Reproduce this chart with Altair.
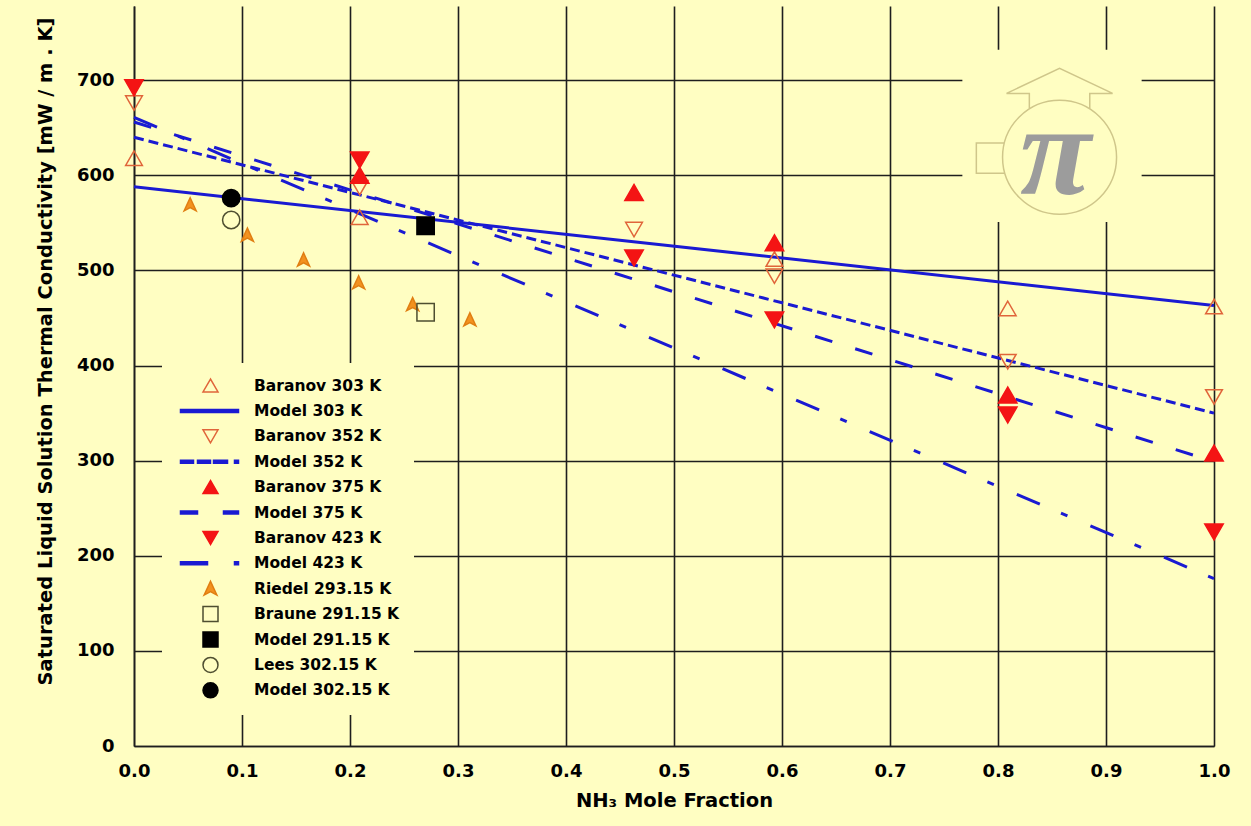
import altair as alt
import pandas as pd

# ---------------- data ----------------
series_names = [
    "Baranov 303 K", "Model 303 K", "Baranov 352 K", "Model 352 K",
    "Baranov 375 K", "Model 375 K", "Baranov 423 K", "Model 423 K",
    "Riedel 293.15 K", "Braune 291.15 K", "Model 291.15 K",
    "Lees 302.15 K", "Model 302.15 K",
]

baranov_x = [0.0, 0.209, 0.463, 0.593, 0.809, 1.0]
baranov_303 = [618, 556, None, 512, 460, 462]
baranov_352 = [676, 587, 543, 494, 404, 367]
baranov_375 = [None, 600, 582, 529, 369, 308]
baranov_423 = [692, 616, 513, 448, 348, 225]

riedel_x = [0.052, 0.105, 0.157, 0.208, 0.258, 0.311]
riedel_y = [569, 537, 511, 487, 464, 448]

braune_x = [0.270]
braune_y = [456]
model291_x = [0.270]
model291_y = [547]
lees_x = [0.090]
lees_y = [553]
model302_x = [0.090]
model302_y = [576]

model_x = [0.0, 1.0]
model_303 = [588, 463]
model_352 = [640, 350]
model_375 = [656, 299]
model_423 = [661, 176]

x_ticks = [0.0, 0.1, 0.2, 0.3, 0.4, 0.5, 0.6, 0.7, 0.8, 0.9, 1.0]
y_ticks = [0, 100, 200, 300, 400, 500, 600, 700]

# ---------------- styles ----------------
BG = "#FFFEC2"
BLUE = "#1A1AD2"
HOLLOW = "#E0653A"
RED = "#F41414"
ORANGE = "#F3921F"
OLIVE = "#4E4E30"
FONT = "DejaVu Sans"


def seg_path(segs, hh=0.2, r=7.5):
    out = []
    for a, b in segs:
        out.append(f"M{a / r:.3f},{-hh:.3f}H{b / r:.3f}V{hh:.3f}H{a / r:.3f}Z")
    return "".join(out)


ARROW = "M0,-1L0.85,0.85L0,0.4L-0.85,0.85Z"

shape_range = [
    "triangle-up", seg_path([(-30, 28)]), "triangle-down",
    seg_path([(-30, -17), (-13, 0), (3, 17), (24, 28)]),
    "triangle-up", seg_path([(-30, -13), (13, 28)]),
    "triangle-down", seg_path([(-30, -3), (24, 28)]),
    ARROW, "square", "square", "circle", "circle",
]
fill_range = [
    "transparent", BLUE, "transparent", BLUE, RED, BLUE, RED, BLUE,
    ORANGE, "transparent", "black", "transparent", "black",
]
stroke_range = [
    HOLLOW, BLUE, HOLLOW, BLUE, RED, BLUE, RED, BLUE,
    "#E07E12", OLIVE, "black", OLIVE, "black",
]

# ---------------- tables ----------------
rows = []
for name, ys in [("Baranov 303 K", baranov_303), ("Baranov 352 K", baranov_352),
                 ("Baranov 375 K", baranov_375), ("Baranov 423 K", baranov_423)]:
    for xv, yv in zip(baranov_x, ys):
        if yv is not None:
            rows.append({"series": name, "x": xv, "y": yv})
for xv, yv in zip(riedel_x, riedel_y):
    rows.append({"series": "Riedel 293.15 K", "x": xv, "y": yv})
for name, xs, ys in [("Braune 291.15 K", braune_x, braune_y),
                     ("Model 291.15 K", model291_x, model291_y),
                     ("Lees 302.15 K", lees_x, lees_y),
                     ("Model 302.15 K", model302_x, model302_y)]:
    for xv, yv in zip(xs, ys):
        rows.append({"series": name, "x": xv, "y": yv})
points = pd.DataFrame(rows)

xscale = alt.Scale(domain=[0, 1], nice=False, zero=False)
yscale = alt.Scale(domain=[0, 778], nice=False)

legend = alt.Legend(
    title=None, orient="none", legendX=28, legendY=357,
    fillColor=BG, padding=14, symbolOffset=26, labelOffset=35,
    symbolSize=225, symbolStrokeWidth=1.5, symbolOpacity=1,
    labelFont=FONT, labelFontSize=15.5, labelFontWeight="bold",
    labelColor="black", rowPadding=4.4, labelLimit=300, gridAlign="all",
)

X = alt.X("x:Q", scale=xscale, axis=alt.Axis(
    values=x_ticks, format=".1f", title="NH₃ Mole Fraction", labelFlush=False,
    titleY=54, titleBaseline="middle"))
Y = alt.Y("y:Q", scale=yscale, axis=alt.Axis(
    values=y_ticks, title="Saturated Liquid Solution Thermal Conductivity [mW / m . K]",
    titleX=-89, titleY=345, titleAngle=270, titleBaseline="middle", titleAlign="center"))


def point_layer(names, size):
    return alt.Chart(points).transform_filter(
        alt.FieldOneOfPredicate(field="series", oneOf=names)
    ).mark_point(size=size, opacity=1, strokeWidth=1.5).encode(
        x=X, y=Y,
        shape=alt.Shape("series:N", scale=alt.Scale(domain=series_names, range=shape_range), legend=legend),
        fill=alt.Fill("series:N", scale=alt.Scale(domain=series_names, range=fill_range), legend=legend),
        stroke=alt.Stroke("series:N", scale=alt.Scale(domain=series_names, range=stroke_range), legend=legend),
    )


def line_layer(ys, dash):
    df = pd.DataFrame({"x": model_x, "y": ys})
    kw = dict(color=BLUE, strokeWidth=3)
    if dash:
        kw["strokeDash"] = dash
    return alt.Chart(df).mark_line(**kw).encode(x=X, y=Y)


# logo (decoration): a plain patch hiding the grid, then the outline and the pi
patch_df = pd.DataFrame({"x": [0.767], "x2": [0.933], "y": [551], "y2": [732]})
logo_patch = alt.Chart(patch_df).mark_rect(color=BG, opacity=1).encode(
    x=alt.X("x:Q", scale=xscale), x2="x2:Q", y=alt.Y("y:Q", scale=yscale), y2="y2:Q")
logo_df = pd.DataFrame({"x": [0.857], "y": [619]})
LOGO = ("M-0.53,-0.85L-0.53,-1.12L-0.93,-1.12L0,-1.56L0.93,-1.12L0.53,-1.12L0.53,-0.85"
        "M-0.97,-0.25L-1.46,-0.25L-1.46,0.28L-0.96,0.28"
        "M1,0A1,1 0 1,1 -1,0A1,1 0 1,1 1,0")
logo_shape = alt.Chart(logo_df).mark_point(
    shape=LOGO, size=12996, stroke="#CFC68A", strokeWidth=1.5, fill="transparent", opacity=1
).encode(x=X, y=Y)
logo_pi = alt.Chart(logo_df).mark_text(
    text="π", font="Liberation Serif", fontSize=130, fontStyle="italic", fontWeight="bold",
    color="#9C9C9C", baseline="middle", align="center", dx=-4, dy=-2
).encode(x=X, y=Y)

chart = alt.layer(
    logo_patch, logo_shape, logo_pi,
    line_layer(model_303, None),
    line_layer(model_352, [10, 5]),
    line_layer(model_375, [18, 24]),
    line_layer(model_423, [25, 23, 7, 25]),
    point_layer(["Baranov 303 K", "Baranov 352 K"], 280),
    point_layer(["Baranov 375 K", "Baranov 423 K"], 340),
    point_layer(["Riedel 293.15 K"], 200),
    point_layer(["Braune 291.15 K", "Model 291.15 K", "Lees 302.15 K", "Model 302.15 K"], 300),
).properties(
    width=1080, height=740, background=BG,
    padding={"left": 134, "top": 6, "right": 37, "bottom": 80},
    autosize=alt.AutoSizeParams(type="none"),
).configure_view(stroke=None, fill=BG).configure_axis(
    grid=True, gridColor="#1E1E1E", gridWidth=1.6, gridOpacity=1,
    domainColor="#1E1E1E", domainWidth=1.6, ticks=False,
    labelFont=FONT, labelFontSize=18, labelFontWeight="bold", labelColor="black",
    titleFont=FONT, titleFontSize=19.5, titleFontWeight="bold", titleColor="black",
    labelPadding=16,
).configure_axisY(labelPadding=20)

chart.save("out.html", embed_options={"renderer": "svg", "actions": False})
